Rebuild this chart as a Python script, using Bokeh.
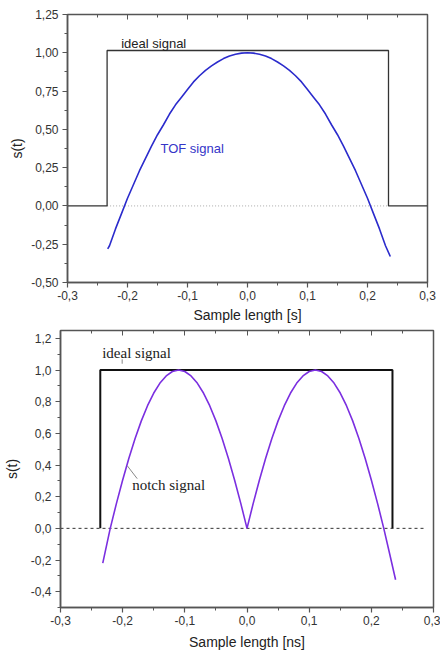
from bokeh.plotting import figure
from bokeh.models import FixedTicker, LinearAxis, Range1d, Label
from bokeh.embed import file_html
from bokeh.resources import INLINE

# ---------------- data: top panel ----------------
ideal1_x = [-0.3, -0.234, -0.234, 0.235, 0.235, 0.3]
ideal1_y = [0.0, 0.0, 1.015, 1.015, 0.0, 0.0]
tof_x = [-0.233, -0.23, -0.22, -0.21, -0.20, -0.19, -0.18, -0.17, -0.16, -0.15, -0.14, -0.13,
         -0.12, -0.11, -0.10, -0.09, -0.08, -0.07, -0.06, -0.05, -0.04, -0.03, -0.02, -0.01,
         0.00, 0.01, 0.02, 0.03, 0.04, 0.05, 0.06, 0.07, 0.08, 0.09, 0.10, 0.11, 0.12, 0.13,
         0.14, 0.15, 0.16, 0.17, 0.18, 0.19, 0.20, 0.21, 0.22, 0.23, 0.238]
tof_y = [-0.28, -0.26, -0.15, -0.05, 0.05, 0.14, 0.23, 0.31, 0.39, 0.465, 0.53, 0.60,
         0.66, 0.71, 0.76, 0.81, 0.85, 0.885, 0.915, 0.94, 0.962, 0.979, 0.99, 0.998,
         1.00, 0.998, 0.99, 0.979, 0.962, 0.94, 0.915, 0.885, 0.85, 0.81, 0.76, 0.71, 0.66, 0.60,
         0.53, 0.465, 0.39, 0.31, 0.23, 0.14, 0.05, -0.05, -0.15, -0.26, -0.33]
zero1_x = [-0.234, 0.235]
zero1_y = [0.0, 0.0]

top_xticks = [-0.3, -0.2, -0.1, 0.0, 0.1, 0.2, 0.3]
top_xlabels = ["-0,3", "-0,2", "-0,1", "0,0", "0,1", "0,2", "0,3"]
top_xminor = [-0.25, -0.15, -0.05, 0.05, 0.15, 0.25]
top_yticks = [-0.5, -0.25, 0.0, 0.25, 0.5, 0.75, 1.0, 1.25]
top_ylabels = ["-0,50", "-0,25", "0,00", "0,25", "0,50", "0,75", "1,00", "1,25"]
top_yminor = [-0.375, -0.125, 0.125, 0.375, 0.625, 0.875, 1.125]

# ---------------- data: bottom panel ----------------
ideal2_x = [-0.236, -0.236, 0.234, 0.234]
ideal2_y = [0.0, 1.0, 1.0, 0.0]
notch_x = [-0.232, -0.22, -0.21, -0.20, -0.19, -0.18, -0.17, -0.16, -0.15, -0.14, -0.13, -0.12,
           -0.11, -0.10, -0.09, -0.08, -0.07, -0.06, -0.05, -0.04, -0.03, -0.02, -0.01,
           0.00, 0.01, 0.02, 0.03, 0.04, 0.05, 0.06, 0.07, 0.08, 0.09, 0.10, 0.11,
           0.12, 0.13, 0.14, 0.15, 0.16, 0.17, 0.18, 0.19, 0.20, 0.21, 0.22, 0.23, 0.239]
notch_y = [-0.22, 0.0, 0.158, 0.306, 0.443, 0.568, 0.679, 0.775, 0.855, 0.918, 0.963, 0.991,
           1.0, 0.991, 0.963, 0.918, 0.855, 0.775, 0.679, 0.568, 0.443, 0.306, 0.158,
           0.0, 0.158, 0.306, 0.443, 0.568, 0.679, 0.775, 0.855, 0.918, 0.963, 0.991, 1.0,
           0.991, 0.963, 0.918, 0.855, 0.775, 0.679, 0.568, 0.443, 0.306, 0.158, 0.0, -0.17, -0.325]
zero2_x = [-0.3, 0.286]
zero2_y = [0.0, 0.0]
ideal_lead_x = [-0.2008, -0.2008]
ideal_lead_y = [1.04, 1.068]
notch_lead_x = [-0.1927, -0.1766]
notch_lead_y = [0.396, 0.314]

bot_xticks = [-0.3, -0.2, -0.1, 0.0, 0.1, 0.2, 0.3]
bot_xlabels = ["-0,3", "-0,2", "-0,1", "0,0", "0,1", "0,2", "0,3"]
bot_xminor = [-0.25, -0.15, -0.05, 0.05, 0.15, 0.25]
bot_yticks = [-0.4, -0.2, 0.0, 0.2, 0.4, 0.6, 0.8, 1.0, 1.2]
bot_ylabels = ["-0,4", "-0,2", "0,0", "0,2", "0,4", "0,6", "0,8", "1,0", "1,2"]
bot_yminor = [-0.5, -0.3, -0.1, 0.1, 0.3, 0.5, 0.7, 0.9, 1.1]

FONT = "Liberation Sans"
AXC = "#555555"


def style(p, xt, xl, xm, yt, yl, ym, xlabel, ystand, xstand):
    p.xgrid.visible = False
    p.ygrid.visible = False
    p.outline_line_color = AXC
    p.outline_line_width = 1.5
    for ax in (p.xaxis[0], p.yaxis[0]):
        ax.axis_line_color = AXC
        ax.axis_line_width = 1.5
        ax.major_tick_line_color = AXC
        ax.minor_tick_line_color = AXC
        ax.major_tick_line_width = 1.2
        ax.minor_tick_line_width = 1.0
        ax.major_tick_in = 0
        ax.major_tick_out = 5
        ax.minor_tick_in = 0
        ax.minor_tick_out = 3
        ax.major_label_text_font = FONT
        ax.major_label_text_font_size = "12px"
        ax.major_label_text_color = "#333333"
        ax.axis_label_text_font = FONT
        ax.axis_label_text_font_size = "14px"
        ax.axis_label_text_font_style = "normal"
        ax.axis_label_text_color = "#222222"
    p.xaxis.ticker = FixedTicker(ticks=xt, minor_ticks=xm)
    p.xaxis.major_label_overrides = dict(zip(xt, xl))
    p.yaxis.ticker = FixedTicker(ticks=yt, minor_ticks=ym)
    p.yaxis.major_label_overrides = dict(zip(yt, yl))
    p.xaxis.axis_label = xlabel
    p.yaxis.axis_label = "s(t)"
    p.xaxis.major_label_standoff = 3
    p.yaxis.major_label_standoff = 4
    p.xaxis.axis_label_standoff = xstand
    p.yaxis.axis_label_standoff = ystand
    top = LinearAxis(ticker=FixedTicker(ticks=xt, minor_ticks=xm),
                     major_label_text_font_size="1px", major_label_text_color=None,
                     axis_line_color=None,
                     major_tick_in=5, major_tick_out=0, minor_tick_in=3, minor_tick_out=0,
                     major_tick_line_color=AXC, minor_tick_line_color=AXC,
                     major_label_standoff=0)
    p.add_layout(top, "above")


# ---------------- top figure ----------------
p1 = figure(width=440, height=326, output_backend="svg", toolbar_location=None,
            x_range=Range1d(-0.3, 0.3), y_range=Range1d(-0.5, 1.25),
            min_border_left=67, min_border_right=13, min_border_top=14, min_border_bottom=44)
style(p1, top_xticks, top_xlabels, top_xminor, top_yticks, top_ylabels, top_yminor,
      "Sample length [s]", 3, 4)
p1.line(zero1_x, zero1_y, line_color="#aaaaaa", line_dash="1 2", line_width=1)
p1.line(ideal1_x, ideal1_y, line_color="#333333", line_width=1.3)
p1.line(tof_x, tof_y, line_color="#2b2bcc", line_width=1.6)
p1.add_layout(Label(x=-0.2105, y=1.06, text="ideal signal", text_font=FONT,
                    text_font_size="13px", text_color="#222222", text_baseline="middle"))
p1.add_layout(Label(x=-0.145, y=0.374, text="TOF signal", text_font=FONT,
                    text_font_size="13px", text_color="#3535c8", text_baseline="middle"))

# ---------------- bottom figure ----------------
p2 = figure(width=440, height=327, output_backend="svg", toolbar_location=None,
            x_range=Range1d(-0.3, 0.3), y_range=Range1d(-0.5, 1.25),
            min_border_left=60, min_border_right=7, min_border_top=4, min_border_bottom=46)
style(p2, bot_xticks, bot_xlabels, bot_xminor, bot_yticks, bot_ylabels, bot_yminor,
      "Sample length [ns]", 8, 6)
p2.line(zero2_x, zero2_y, line_color="#333333", line_dash="3 3", line_width=1)
p2.line(ideal2_x, ideal2_y, line_color="#111111", line_width=2)
p2.line(notch_x, notch_y, line_color="#7b2fe0", line_width=1.6)
p2.line(ideal_lead_x, ideal_lead_y, line_color="#888888", line_width=1)
p2.line(notch_lead_x, notch_lead_y, line_color="#888888", line_width=1)
p2.add_layout(Label(x=-0.233, y=1.107, text="ideal signal", text_font="Liberation Serif",
                    text_font_size="15px", text_color="#222222", text_baseline="middle"))
p2.add_layout(Label(x=-0.1847, y=0.276, text="notch signal", text_font="Liberation Serif",
                    text_font_size="15px", text_color="#222222", text_baseline="middle"))

open("out.html", "w").write(file_html([p1, p2], INLINE))
